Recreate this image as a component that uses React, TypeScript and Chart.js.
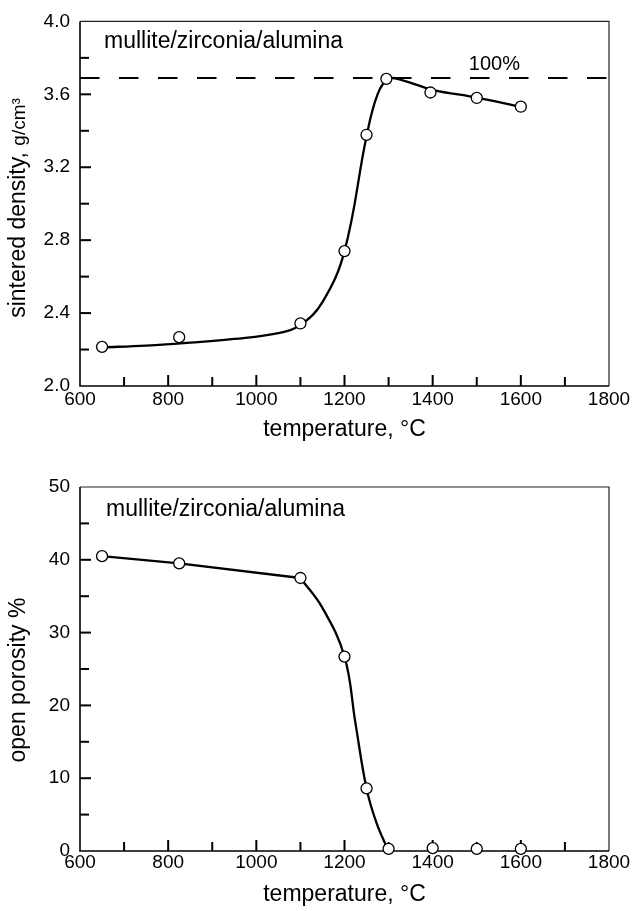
import React, { useEffect, useRef } from "react";
import { Chart, registerables } from "chart.js";

Chart.register(...registerables);

const FONT = "'Liberation Sans', Arial, Helvetica, sans-serif";

// ---- shared axis data ----
const X_MIN = 600;
const X_MAX = 1800;
const X_STEP = 100;
const X_LABEL_STEP = 200;
const X_TITLE = "temperature, °C";
const SYSTEM_LABEL = "mullite/zirconia/alumina";

// ---- top panel: sintered density ----
const densityTemps = [650, 825, 1100, 1200, 1250, 1295, 1395, 1500, 1600];
const densityValues = [2.215, 2.268, 2.343, 2.74, 3.378, 3.685, 3.61, 3.58, 3.532];
const densityCurveTemps = [650, 750, 850, 950, 1050, 1100, 1150, 1200, 1250, 1275, 1300, 1330, 1400, 1500, 1600];
const densityCurveValues = [2.212, 2.222, 2.238, 2.258, 2.29, 2.335, 2.46, 2.74, 3.37, 3.6, 3.685, 3.678, 3.625, 3.582, 3.532];
const densityAxis = [2.0, 4.0];
const densityStep = 0.2;
const densityLabelStep = 0.4;
const fullDensity = 3.69;
const fullDensityLabel = "100%";
const fullDensityLabelAt = 1540;
const densityTitle = "sintered density, ";
const densityUnit = "g/cm³";

// ---- bottom panel: open porosity ----
const porosityTemps = [650, 825, 1100, 1200, 1250, 1300, 1400, 1500, 1600];
const porosityValues = [40.5, 39.5, 37.5, 26.7, 8.6, 0.3, 0.4, 0.3, 0.3];
const porosityLineTemps = [650, 825, 1100];
const porosityLineValues = [40.5, 39.5, 37.5];
const porosityCurveTemps = [1100, 1150, 1200, 1225, 1250, 1273, 1300];
const porosityCurveValues = [37.5, 33.4, 26.7, 17.5, 8.6, 3.8, 0];
const porosityAxis = [0, 50];
const porosityStep = 5;
const porosityLabelStep = 10;
const porosityTitle = "open porosity %";

type Segment = { temps: number[]; values: number[]; smooth: boolean };

type PanelProps = {
  height: number;
  padTop: number;
  xArea: number;
  xTickPad: number;
  xTitlePadBottom: number;
  yRange: number[];
  yStep: number;
  yLabelStep: number;
  yDecimals: number;
  yTitle: string;
  yTitleSub?: string;
  yTitleCenter: number;
  temps: number[];
  values: number[];
  segments: Segment[];
  refValue?: number;
  refLabel?: string;
  refLabelAt?: number;
  annotBaselineOffset: number;
  annotX: number;
};

const TICK_MINOR = 9;
const TICK_MAJOR = 11;

function isMultiple(v: number, step: number) {
  const r = v / step;
  return Math.abs(r - Math.round(r)) < 1e-6;
}

function Panel(p: PanelProps) {
  const ref = useRef<HTMLCanvasElement | null>(null);

  useEffect(() => {
    const canvas = ref.current;
    if (!canvas) return;

    const decor = {
      id: "decor",
      beforeDatasetsDraw(chart: any) {
        const { ctx, chartArea: a, scales } = chart;
        const xs = scales.x;
        const ys = scales.y;
        ctx.save();
        ctx.strokeStyle = "#000";
        ctx.lineWidth = 2;
        ctx.lineCap = "butt";
        xs.ticks.forEach((t: any) => {
          if (t.value <= X_MIN || t.value >= X_MAX) return;
          const len = isMultiple(t.value, X_LABEL_STEP) ? TICK_MAJOR : TICK_MINOR;
          const px = xs.getPixelForValue(t.value);
          ctx.beginPath();
          ctx.moveTo(px, a.bottom);
          ctx.lineTo(px, a.bottom - len);
          ctx.stroke();
        });
        ys.ticks.forEach((t: any) => {
          if (t.value <= p.yRange[0] + 1e-9 || t.value >= p.yRange[1] - 1e-9) return;
          const len = isMultiple(t.value, p.yLabelStep) ? TICK_MAJOR : TICK_MINOR;
          const py = ys.getPixelForValue(t.value);
          ctx.beginPath();
          ctx.moveTo(a.left, py);
          ctx.lineTo(a.left + len, py);
          ctx.stroke();
        });
        ctx.lineWidth = 1.2;
        ctx.strokeStyle = "#222";
        ctx.beginPath();
        ctx.moveTo(a.left, a.top);
        ctx.lineTo(a.right, a.top);
        ctx.lineTo(a.right, a.bottom);
        ctx.stroke();
        ctx.lineWidth = 1.6;
        ctx.strokeStyle = "#000";
        ctx.beginPath();
        ctx.moveTo(a.left, a.top);
        ctx.lineTo(a.left, a.bottom);
        ctx.lineTo(a.right, a.bottom);
        ctx.stroke();
        ctx.restore();
      },
      afterDraw(chart: any) {
        const { ctx, chartArea: a, scales } = chart;
        ctx.save();
        ctx.fillStyle = "#000";
        ctx.textBaseline = "alphabetic";
        ctx.textAlign = "left";
        ctx.font = `23px ${FONT}`;
        ctx.fillText(SYSTEM_LABEL, p.annotX, a.top + p.annotBaselineOffset);

        if (p.refValue !== undefined && p.refLabel && p.refLabelAt !== undefined) {
          ctx.font = `20px ${FONT}`;
          ctx.textAlign = "center";
          ctx.fillText(p.refLabel, scales.x.getPixelForValue(p.refLabelAt), scales.y.getPixelForValue(p.refValue) - 8);
        }

        // y title (rotated, mixed sizes)
        const mainFont = `23px ${FONT}`;
        const subFont = `19px ${FONT}`;
        ctx.font = mainFont;
        const w1 = ctx.measureText(p.yTitle).width;
        let w2 = 0;
        if (p.yTitleSub) {
          ctx.font = subFont;
          w2 = ctx.measureText(p.yTitleSub).width;
        }
        const total = w1 + w2;
        ctx.translate(25, p.yTitleCenter);
        ctx.rotate(-Math.PI / 2);
        ctx.textAlign = "left";
        ctx.font = mainFont;
        ctx.fillText(p.yTitle, -total / 2, 0);
        if (p.yTitleSub) {
          ctx.font = subFont;
          ctx.fillText(p.yTitleSub, -total / 2 + w1, 0);
        }
        ctx.restore();
      },
    };

    const pts = p.temps.map((t, i) => ({ x: t, y: p.values[i] }));
    const datasets: any[] = [
      {
        label: "measured",
        data: pts,
        showLine: false,
        pointRadius: 5.5,
        pointHoverRadius: 5.5,
        pointBackgroundColor: "#fff",
        pointBorderColor: "#000",
        pointBorderWidth: 1.3,
        clip: false,
      },
    ];
    p.segments.forEach((s, k) => {
      datasets.push({
        label: "curve" + k,
        data: s.temps.map((t, i) => ({ x: t, y: s.values[i] })),
        showLine: true,
        pointRadius: 0,
        borderColor: "#000",
        borderWidth: 2.3,
        borderJoinStyle: "round",
        tension: s.smooth ? 0.4 : 0,
        fill: false,
      });
    });
    if (p.refValue !== undefined) {
      datasets.push({
        label: "reference",
        data: [
          { x: X_MIN, y: p.refValue },
          { x: X_MAX, y: p.refValue },
        ],
        showLine: true,
        pointRadius: 0,
        borderColor: "#000",
        borderWidth: 2,
        borderDash: [19.5, 19.5],
        borderCapStyle: "butt",
        fill: false,
      });
    }

    const chart = new Chart(canvas, {
      type: "scatter",
      data: { datasets },
      plugins: [decor],
      options: {
        responsive: false,
        animation: false,
        devicePixelRatio: 1,
        layout: { padding: { top: p.padTop, right: 24, left: 0, bottom: 0 } },
        plugins: { legend: { display: false }, tooltip: { enabled: false } },
        scales: {
          x: {
            type: "linear",
            min: X_MIN,
            max: X_MAX,
            afterFit: (s: any) => {
              s.height = p.xArea;
            },
            grid: { display: false, drawTicks: false },
            border: { display: false },
            ticks: {
              stepSize: X_STEP,
              autoSkip: false,
              maxRotation: 0,
              padding: p.xTickPad,
              color: "#000",
              font: { family: FONT, size: 19 },
              callback: (v: any) => (isMultiple(Number(v), X_LABEL_STEP) ? String(v) : ""),
            },
            title: {
              display: true,
              text: X_TITLE,
              color: "#000",
              font: { family: FONT, size: 23 },
              padding: { top: 0, bottom: p.xTitlePadBottom },
            },
          },
          y: {
            type: "linear",
            min: p.yRange[0],
            max: p.yRange[1],
            afterFit: (s: any) => {
              s.width = 80;
            },
            grid: { display: false, drawTicks: false },
            border: { display: false },
            ticks: {
              stepSize: p.yStep,
              autoSkip: false,
              padding: 10,
              color: "#000",
              font: { family: FONT, size: 19 },
              callback: (v: any) => (isMultiple(Number(v), p.yLabelStep) ? Number(v).toFixed(p.yDecimals) : ""),
            },
          },
        },
      } as any,
    });
    return () => chart.destroy();
  }, []);

  return <canvas ref={ref} width={633} height={p.height} style={{ display: "block", width: 633, height: p.height }} />;
}

export default function App() {
  return (
    <div style={{ position: "absolute", left: 0, top: 0, width: 633, height: 911, background: "#fff" }}>
      <Panel
        height={455}
        padTop={21}
        xArea={69}
        xTickPad={2}
        xTitlePadBottom={12}
        yRange={densityAxis}
        yStep={densityStep}
        yLabelStep={densityLabelStep}
        yDecimals={1}
        yTitle={densityTitle}
        yTitleSub={densityUnit}
        yTitleCenter={208}
        temps={densityTemps}
        values={densityValues}
        segments={[{ temps: densityCurveTemps, values: densityCurveValues, smooth: true }]}
        refValue={fullDensity}
        refLabel={fullDensityLabel}
        refLabelAt={fullDensityLabelAt}
        annotBaselineOffset={27}
        annotX={104}
      />
      <Panel
        height={456}
        padTop={32}
        xArea={60}
        xTickPad={0}
        xTitlePadBottom={3}
        yRange={porosityAxis}
        yStep={porosityStep}
        yLabelStep={porosityLabelStep}
        yDecimals={0}
        yTitle={porosityTitle}
        yTitleCenter={225}
        temps={porosityTemps}
        values={porosityValues}
        segments={[
          { temps: porosityLineTemps, values: porosityLineValues, smooth: false },
          { temps: porosityCurveTemps, values: porosityCurveValues, smooth: true },
        ]}
        annotBaselineOffset={29}
        annotX={106}
      />
    </div>
  );
}
